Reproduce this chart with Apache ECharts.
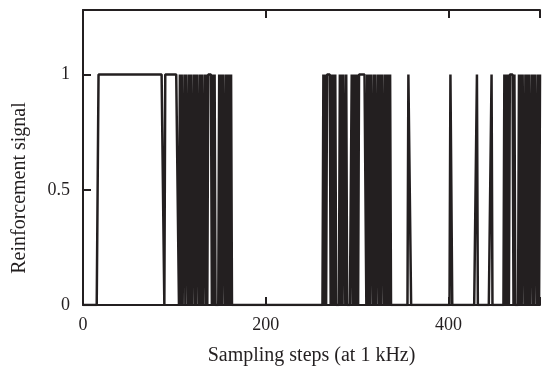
<!DOCTYPE html>
<html>
<head>
<meta charset="utf-8">
<script src="https://cdn.jsdelivr.net/npm/echarts@6/dist/echarts.min.js"></script>
<style>
  html, body { margin: 0; padding: 0; background: #fff; }
  #chart { width: 543px; height: 371px; }
</style>
</head>
<body>
<div id="chart"></div>
<script>
// reinforcement signal, one 0/1 value per sampling step (0..500)
var signalRows = [
  '0000000000 0000000111 1111111111 1111111111 1111111111', // 0-49
  '1111111111 1111111111 1111111111 1111111110 1111111111', // 50-99
  '1111101010 0101101010 0101011010 1001010111 1010100001', // 100-149
  '0101101010 1010000000 0000000000 0000000000 0000000000', // 150-199
  '0000000000 0000000000 0000000000 0000000000 0000000000', // 200-249
  '0000000000 0001010111 1010101000 0101011010 0000101010', // 250-299
  '1011111111 0101011010 1001010110 1010101000 0000000000', // 300-349
  '0000001110 0000000000 0000000000 0000000000 0000000000', // 350-399
  '0011000000 0000000000 0000000000 0100000000 0000000100', // 400-449
  '0000000000 0101010111 1010000101 0110101010 0101011010', // 450-499
  '1'                                                       // 500
];
var xTicks = [0, 200, 400];
var yTicks = [0, 0.5, 1];

var ink = '#231f20';
var serif = 'Liberation Serif';

var steps = [];
signalRows.join('').replace(/ /g, '').split('').forEach(function (c, i) {
  steps.push([i, Number(c)]);
});

var chartDom = document.getElementById('chart');
var sigChart = echarts.init(chartDom);
var option;

option = {
  animation: false,
  grid: { left: 83, right: -3, top: 10, bottom: 66 },
  xAxis: [
    {
      type: 'value',
      min: 0,
      max: 500,
      interval: 200,
      position: 'bottom',
      name: 'Sampling steps (at 1 kHz)',
      nameLocation: 'middle',
      nameGap: 41,
      nameTextStyle: { fontFamily: serif, fontSize: 20, color: ink },
      axisLine: { onZero: false, lineStyle: { color: ink, width: 2 } },
      axisTick: { inside: true, length: 8, lineStyle: { color: ink, width: 2 } },
      axisLabel: {
        margin: 11,
        fontFamily: serif,
        fontSize: 18,
        color: ink,
        formatter: function (v) { return xTicks.indexOf(v) >= 0 ? String(v) : ''; }
      },
      splitLine: { show: false }
    },
    {
      type: 'value',
      min: 0,
      max: 500,
      interval: 200,
      position: 'top',
      axisLine: { onZero: false, lineStyle: { color: ink, width: 2 } },
      axisTick: { inside: true, length: 8, lineStyle: { color: ink, width: 2 } },
      axisLabel: { show: false },
      splitLine: { show: false }
    }
  ],
  yAxis: {
    type: 'value',
    min: 0,
    max: 1.28,
    interval: 0.5,
    axisLine: { show: true, onZero: false, lineStyle: { color: ink, width: 2 } },
    axisTick: { show: true, inside: true, length: 8, lineStyle: { color: ink, width: 2 } },
    axisLabel: {
      margin: 13,
      fontFamily: serif,
      fontSize: 18,
      color: ink,
      formatter: function (v) { return yTicks.indexOf(v) >= 0 ? String(v) : ''; }
    },
    splitLine: { show: false }
  },
  graphic: [
    {
      type: 'text',
      x: 20,
      y: 188,
      rotation: Math.PI / 2,
      style: {
        text: 'Reinforcement signal',
        fontFamily: serif,
        fontSize: 20,
        fill: ink,
        align: 'center',
        verticalAlign: 'middle'
      }
    }
  ],
  series: [
    {
      type: 'line',
      data: steps,
      showSymbol: false,
      symbol: 'none',
      lineStyle: { color: ink, width: 2.5 }
    }
  ]
};

sigChart.setOption(option);
</script>
</body>
</html>
